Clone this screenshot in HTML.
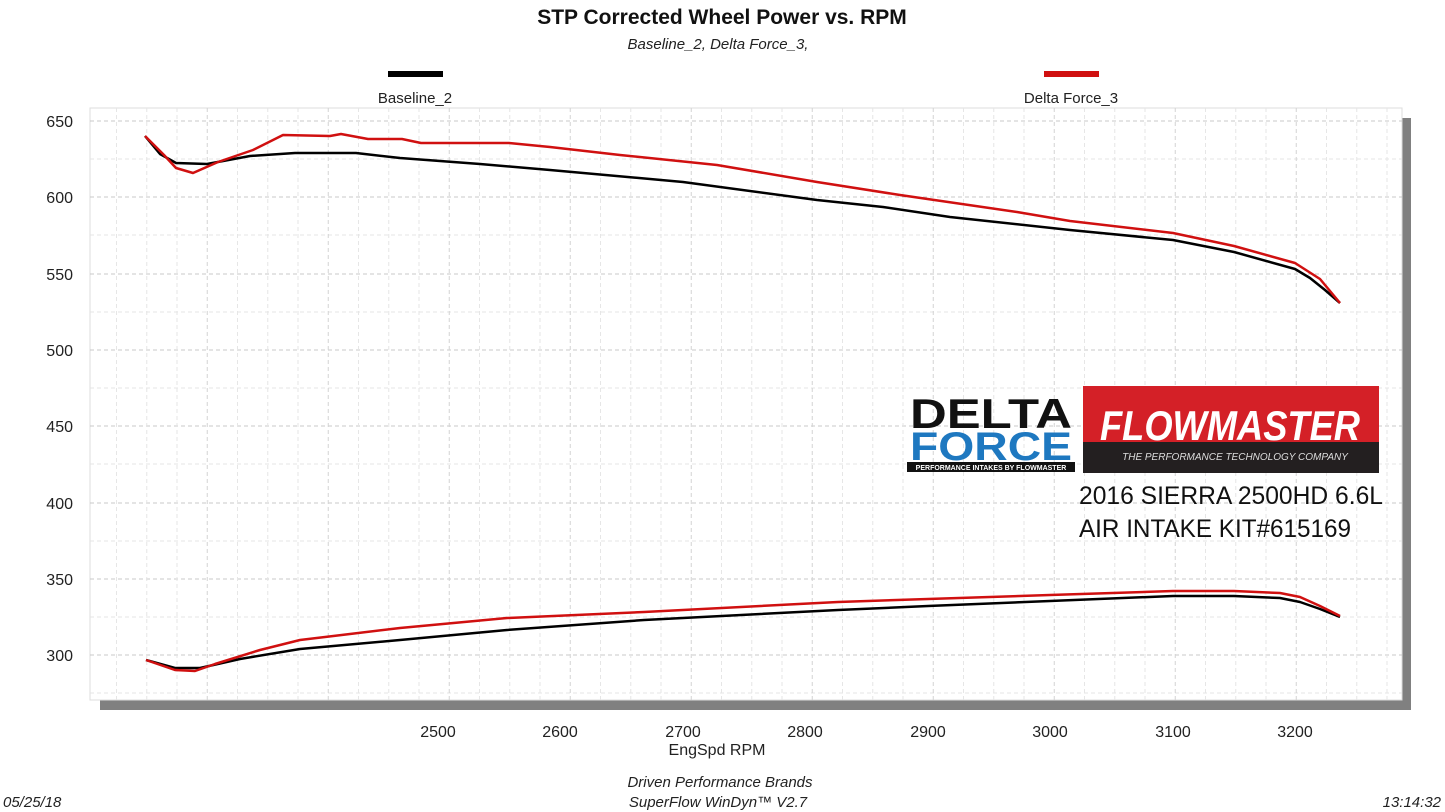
<!DOCTYPE html>
<html><head><meta charset="utf-8"><style>
body{margin:0;background:#fff;}
svg{display:block;font-family:"Liberation Sans",sans-serif;}
</style></head><body>
<svg width="1445" height="812" viewBox="0 0 1445 812" xmlns="http://www.w3.org/2000/svg">
<rect width="1445" height="812" fill="#fff"/>
<text x="722" y="24" text-anchor="middle" font-size="21" font-weight="bold" fill="#111">STP Corrected Wheel Power vs. RPM</text>
<text x="718" y="49" text-anchor="middle" font-size="15" font-style="italic" fill="#222">Baseline_2, Delta Force_3,</text>
<line x1="388" y1="74" x2="443" y2="74" stroke="#000" stroke-width="6"/>
<text x="415" y="103" text-anchor="middle" font-size="15" fill="#222">Baseline_2</text>
<line x1="1044" y1="74" x2="1099" y2="74" stroke="#d01010" stroke-width="6"/>
<text x="1071" y="103" text-anchor="middle" font-size="15" fill="#222">Delta Force_3</text>
<rect x="100" y="118" width="1311" height="592" fill="#808080"/>
<rect x="90" y="108" width="1312" height="592" fill="#fff" stroke="#ddd" stroke-width="1"/>
<g stroke="#c8c8c8" stroke-width="1" stroke-dasharray="4,3">
<line x1="90" x2="1402" y1="121" y2="121"/><line x1="90" x2="1402" y1="159" y2="159" stroke="#e4e4e4"/>
<line x1="90" x2="1402" y1="197" y2="197"/><line x1="90" x2="1402" y1="235" y2="235" stroke="#e4e4e4"/>
<line x1="90" x2="1402" y1="274" y2="274"/><line x1="90" x2="1402" y1="312" y2="312" stroke="#e4e4e4"/>
<line x1="90" x2="1402" y1="350" y2="350"/><line x1="90" x2="1402" y1="388" y2="388" stroke="#e4e4e4"/>
<line x1="90" x2="1402" y1="426" y2="426"/><line x1="90" x2="1402" y1="464" y2="464" stroke="#e4e4e4"/>
<line x1="90" x2="1402" y1="503" y2="503"/><line x1="90" x2="1402" y1="541" y2="541" stroke="#e4e4e4"/>
<line x1="90" x2="1402" y1="579" y2="579"/><line x1="90" x2="1402" y1="617" y2="617" stroke="#e4e4e4"/>
<line x1="90" x2="1402" y1="655" y2="655"/><line x1="90" x2="1402" y1="693" y2="693" stroke="#e4e4e4"/>
</g>
<g id="vg" stroke="#d4d4d4" stroke-width="1" stroke-dasharray="4,3"></g>
<g font-size="16" fill="#222" text-anchor="end">
<text x="73" y="127">650</text><text x="73" y="203">600</text><text x="73" y="280">550</text>
<text x="73" y="356">500</text><text x="73" y="432">450</text><text x="73" y="509">400</text>
<text x="73" y="585">350</text><text x="73" y="661">300</text>
</g>
<g font-size="16" fill="#222" text-anchor="middle">
<text x="438" y="737">2500</text><text x="560" y="737">2600</text><text x="683" y="737">2700</text>
<text x="805" y="737">2800</text><text x="928" y="737">2900</text><text x="1050" y="737">3000</text>
<text x="1173" y="737">3100</text><text x="1295" y="737">3200</text>
<text x="717" y="755">EngSpd  RPM</text>
</g>
<g fill="none" stroke-linejoin="round" stroke-width="2.5">
<polyline stroke="#000" points="145,136 160,154 176,163 207,164 250,156 295,153 356,153 400,158 480,164 550,170 683,182 817,200 883,207 950,217 1070,230 1173,240 1234,252 1295,269 1310,278 1325,290 1340,303"/>
<polyline stroke="#d01010" points="145,136 164,155 176,168 193,173 218,162 253,150 283,135 330,136 341,134 368,139 402,139 421,143 509,143 550,147 620,155 717,165 817,182 900,195 1017,212 1070,221 1173,233 1234,246 1295,263 1320,279 1340,303"/>
<polyline stroke="#000" points="146,660 175,668 200,668 240,659 300,649 400,640 507,630 644,620 838,610 928,606 1050,601 1173,596 1234,596 1280,598 1300,602 1320,609 1340,617"/>
<polyline stroke="#d01010" points="146,660 175,670 195,671 215,664 260,650 300,640 400,628 507,618 644,612 838,602 928,599 1050,595 1173,591 1234,591 1280,593 1300,597 1320,606 1340,616"/>
</g>
<text x="910" y="428" font-size="42" font-weight="bold" fill="#111" textLength="162" lengthAdjust="spacingAndGlyphs">DELTA</text>
<text x="910" y="460" font-size="40" font-weight="bold" fill="#1e78c0" textLength="162" lengthAdjust="spacingAndGlyphs">FORCE</text>
<rect x="907" y="462" width="168" height="10" fill="#111"/>
<text x="991" y="470" font-size="7" font-weight="bold" fill="#fff" text-anchor="middle">PERFORMANCE INTAKES BY FLOWMASTER</text>
<rect x="1083" y="386" width="296" height="87" fill="#231f20"/>
<rect x="1083" y="386" width="296" height="56" fill="#d42027"/>
<text x="1230" y="440" font-size="42" font-weight="bold" font-style="italic" fill="#fff" text-anchor="middle" textLength="260" lengthAdjust="spacingAndGlyphs">FLOWMASTER</text>
<text x="1235" y="460" font-size="10" font-style="italic" fill="#ddd" text-anchor="middle">THE PERFORMANCE TECHNOLOGY COMPANY</text>
<text x="1079" y="504" font-size="25" fill="#111" textLength="304" lengthAdjust="spacingAndGlyphs">2016 SIERRA 2500HD 6.6L</text>
<text x="1079" y="537" font-size="25" fill="#111" textLength="272" lengthAdjust="spacingAndGlyphs">AIR INTAKE KIT#615169</text>
<g font-size="15" font-style="italic" fill="#222">
<text x="720" y="787" text-anchor="middle">Driven Performance Brands</text>
<text x="718" y="807" text-anchor="middle">SuperFlow WinDyn™  V2.7</text>
<text x="3" y="807">05/25/18</text>
<text x="1441" y="807" text-anchor="end">13:14:32</text>
</g>
<script>
var g=document.getElementById('vg');
for(var k=0;k<44;k++){var x=1387-k*30.25;if(x<95)break;var l=document.createElementNS('http://www.w3.org/2000/svg','line');
l.setAttribute('x1',x);l.setAttribute('x2',x);l.setAttribute('y1',108);l.setAttribute('y2',700);
if((k-3)%4!=0)l.setAttribute('stroke','#e6e6e6');g.appendChild(l);}
</script>
</svg>
</body></html>
